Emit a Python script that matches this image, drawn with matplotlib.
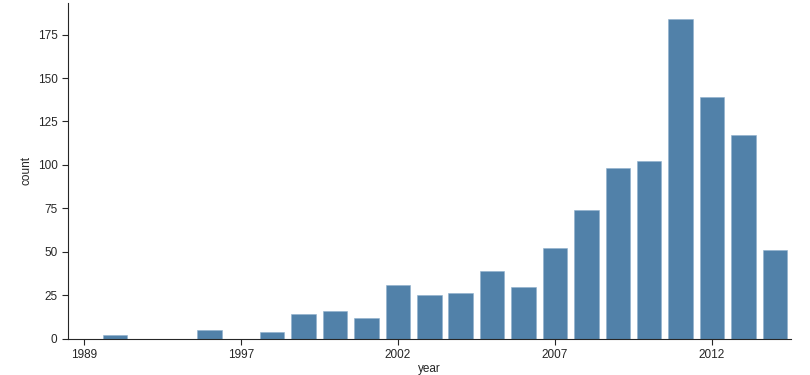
import matplotlib
matplotlib.use("Agg")
import matplotlib.pyplot as plt
import seaborn as sns
from matplotlib.ticker import MultipleLocator

# year categories on the x axis (only every 5th label is shown)
years = [
    "1989", "1990", "1992", "1994", "1996", "1997", "1998", "1999",
    "2000", "2001", "2002", "2003", "2004", "2005", "2006", "2007",
    "2008", "2009", "2010", "2011", "2012", "2013", "2014",
]
counts = [
    0, 2, 0, 0, 5, 0, 4, 14,
    16, 12, 31, 25, 26, 39, 30, 52,
    74, 98, 102, 184, 139, 117, 51,
]

sns.set_style("ticks")
plt.rcParams["font.family"] = ["Liberation Sans", "DejaVu Sans"]

fig, ax = plt.subplots(figsize=(8.1, 3.75), dpi=100)
fig.subplots_adjust(left=0.084, right=0.976, top=0.992, bottom=0.097)

ax.bar(years, counts, width=0.78, color="#5181a9", edgecolor="#8fb0cc", linewidth=0.4)
ax.set_xlim(-0.5, len(years) - 0.5)
ax.xaxis.set_major_locator(MultipleLocator(5))
ax.set_xlabel("year", fontsize=8.5, labelpad=1.5)
ax.set_ylabel("count", fontsize=8.5)
ax.tick_params(labelsize=8.5, length=4, color="#262626", labelcolor="#262626")
for s in ("left", "bottom"):
    ax.spines[s].set_color("#262626")
sns.despine(ax=ax)

fig.savefig("out.png", dpi=100)
